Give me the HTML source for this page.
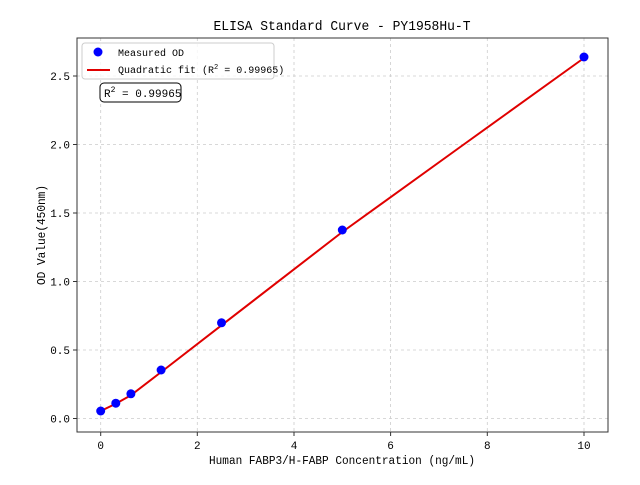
<!DOCTYPE html>
<html><head><meta charset="utf-8"><style>
html,body{margin:0;padding:0;background:#fff;}
svg text{font-family:"Liberation Mono","WenQuanYi Zen Hei",monospace;fill:#000;}
</style></head><body>
<svg width="640" height="480" viewBox="0 0 640 480" xmlns="http://www.w3.org/2000/svg">
<rect width="640" height="480" fill="#fff"/>
<g stroke="#ccc" stroke-width="0.8" stroke-dasharray="3,3">
<line x1="100.7" y1="38" x2="100.7" y2="432"/>
<line x1="197.3" y1="38" x2="197.3" y2="432"/>
<line x1="294" y1="38" x2="294" y2="432"/>
<line x1="390.6" y1="38" x2="390.6" y2="432"/>
<line x1="487.3" y1="38" x2="487.3" y2="432"/>
<line x1="584" y1="38" x2="584" y2="432"/>
<line x1="77" y1="418.5" x2="608" y2="418.5"/>
<line x1="77" y1="350" x2="608" y2="350"/>
<line x1="77" y1="281.5" x2="608" y2="281.5"/>
<line x1="77" y1="213" x2="608" y2="213"/>
<line x1="77" y1="144.5" x2="608" y2="144.5"/>
<line x1="77" y1="76" x2="608" y2="76"/>
</g>
<polyline fill="none" stroke="#e00000" stroke-width="2" points="100.7,411 116,403.6 131,395.2 161.2,372 221.5,325.3 342.3,232 463,145 584,58"/>
<g fill="#0000ff">
<circle cx="100.7" cy="411" r="4.5"/>
<circle cx="115.8" cy="403.2" r="4.5"/>
<circle cx="130.9" cy="393.8" r="4.5"/>
<circle cx="161.1" cy="370" r="4.5"/>
<circle cx="221.5" cy="322.8" r="4.5"/>
<circle cx="342.3" cy="230" r="4.5"/>
<circle cx="584" cy="57" r="4.5"/>
</g>
<rect x="77" y="38" width="531" height="394" fill="none" stroke="#333" stroke-width="1"/>
<g stroke="#333" stroke-width="1">
<line x1="100.7" y1="432" x2="100.7" y2="436"/><line x1="197.3" y1="432" x2="197.3" y2="436"/>
<line x1="294" y1="432" x2="294" y2="436"/><line x1="390.6" y1="432" x2="390.6" y2="436"/>
<line x1="487.3" y1="432" x2="487.3" y2="436"/><line x1="584" y1="432" x2="584" y2="436"/>
<line x1="73" y1="418.5" x2="77" y2="418.5"/><line x1="73" y1="350" x2="77" y2="350"/>
<line x1="73" y1="281.5" x2="77" y2="281.5"/><line x1="73" y1="213" x2="77" y2="213"/>
<line x1="73" y1="144.5" x2="77" y2="144.5"/><line x1="73" y1="76" x2="77" y2="76"/>
</g>
<g font-size="11" text-anchor="middle">
<text x="100.7" y="449">0</text><text x="197.3" y="449">2</text><text x="294" y="449">4</text>
<text x="390.6" y="449">6</text><text x="487.3" y="449">8</text><text x="584" y="449">10</text>
</g>
<g font-size="11" text-anchor="end">
<text x="70" y="422.5">0.0</text><text x="70" y="354">0.5</text><text x="70" y="285.5">1.0</text>
<text x="70" y="217">1.5</text><text x="70" y="148.5">2.0</text><text x="70" y="80">2.5</text>
</g>
<text x="342" y="464" font-size="11.5" text-anchor="middle" textLength="266" lengthAdjust="spacingAndGlyphs">Human FABP3/H-FABP Concentration (ng/mL)</text>
<text x="0" y="0" font-size="11.5" text-anchor="middle" textLength="100" lengthAdjust="spacingAndGlyphs" transform="translate(45,235) rotate(-90)">OD Value(450nm)</text>
<text x="342" y="30" font-size="13.5" text-anchor="middle" textLength="257" lengthAdjust="spacingAndGlyphs">ELISA Standard Curve - PY1958Hu-T</text>
<rect x="82" y="43" width="192" height="36" rx="3" fill="#fff" fill-opacity="0.8" stroke="#ccc"/>
<circle cx="98" cy="52" r="4.5" fill="#0000ff"/>
<text x="118" y="56" font-size="10">Measured OD</text>
<line x1="87" y1="70" x2="110" y2="70" stroke="#e00000" stroke-width="2"/>
<text x="118" y="73" font-size="10">Quadratic fit (R<tspan font-size="7" dy="-4">2</tspan><tspan dy="4"> = 0.99965)</tspan></text>
<rect x="100" y="83" width="81" height="19" rx="4" fill="#fff" stroke="#000" stroke-width="1"/>
<text x="104" y="97" font-size="11">R<tspan font-size="8" dy="-5">2</tspan><tspan dy="5"> = 0.99965</tspan></text>
</svg>
</body></html>
